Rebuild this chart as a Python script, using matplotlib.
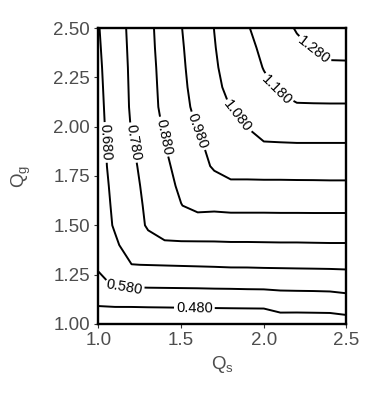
import matplotlib
matplotlib.use("Agg")
import matplotlib.pyplot as plt
import numpy as np

plt.rcParams['font.family'] = ['Liberation Sans', 'DejaVu Sans']
plt.rcParams['mathtext.default'] = 'regular'

qs = [1.0, 1.1, 1.2, 1.3, 1.4, 1.5, 1.6, 1.7, 1.8, 1.9, 2.0, 2.1, 2.2, 2.3, 2.4, 2.5]
qg = [1.0, 1.1, 1.2, 1.3, 1.4, 1.5, 1.6, 1.7, 1.8, 1.9, 2.0, 2.1, 2.2, 2.3, 2.4, 2.5]
levels = [0.48, 0.58, 0.68, 0.78, 0.88, 0.98, 1.08, 1.18, 1.28]

# values, one list per qs column (qg from 1.0 up to 2.5)
z_cols = [
    [0.410, 0.487, 0.548, 0.597, 0.625, 0.640, 0.643, 0.647, 0.652, 0.653, 0.655, 0.658, 0.662, 0.666, 0.671, 0.676],
    [0.396, 0.493, 0.592, 0.624, 0.668, 0.688, 0.694, 0.700, 0.707, 0.713, 0.720, 0.725, 0.728, 0.731, 0.735, 0.739],
    [0.391, 0.494, 0.594, 0.679, 0.715, 0.737, 0.745, 0.754, 0.762, 0.772, 0.784, 0.790, 0.792, 0.794, 0.797, 0.800],
    [0.391, 0.496, 0.596, 0.681, 0.750, 0.790, 0.797, 0.804, 0.814, 0.825, 0.837, 0.846, 0.849, 0.852, 0.856, 0.859],
    [0.392, 0.497, 0.597, 0.683, 0.772, 0.805, 0.835, 0.851, 0.864, 0.877, 0.889, 0.901, 0.905, 0.909, 0.914, 0.918],
    [0.394, 0.498, 0.598, 0.685, 0.770, 0.821, 0.878, 0.895, 0.908, 0.923, 0.938, 0.954, 0.960, 0.966, 0.971, 0.977],
    [0.395, 0.499, 0.599, 0.687, 0.767, 0.836, 0.903, 0.925, 0.949, 0.969, 0.985, 1.001, 1.012, 1.018, 1.024, 1.029],
    [0.396, 0.500, 0.601, 0.689, 0.767, 0.838, 0.898, 0.947, 0.990, 0.998, 1.018, 1.043, 1.061, 1.070, 1.076, 1.081],
    [0.397, 0.501, 0.602, 0.692, 0.769, 0.839, 0.903, 0.962, 1.017, 1.027, 1.052, 1.082, 1.100, 1.110, 1.118, 1.128],
    [0.397, 0.502, 0.604, 0.692, 0.769, 0.839, 0.903, 0.962, 1.017, 1.045, 1.082, 1.100, 1.132, 1.147, 1.160, 1.174],
    [0.397, 0.503, 0.605, 0.694, 0.770, 0.839, 0.903, 0.963, 1.018, 1.070, 1.110, 1.140, 1.164, 1.183, 1.196, 1.213],
    [0.428, 0.518, 0.607, 0.695, 0.771, 0.839, 0.904, 0.963, 1.018, 1.070, 1.118, 1.160, 1.190, 1.210, 1.227, 1.251],
    [0.427, 0.518, 0.609, 0.696, 0.771, 0.839, 0.904, 0.964, 1.018, 1.071, 1.122, 1.172, 1.210, 1.240, 1.262, 1.287],
    [0.428, 0.519, 0.610, 0.697, 0.772, 0.840, 0.904, 0.964, 1.019, 1.071, 1.122, 1.172, 1.215, 1.255, 1.284, 1.317],
    [0.428, 0.521, 0.612, 0.698, 0.773, 0.840, 0.904, 0.965, 1.019, 1.071, 1.122, 1.172, 1.218, 1.264, 1.307, 1.335],
    [0.437, 0.531, 0.619, 0.699, 0.773, 0.840, 0.904, 0.965, 1.019, 1.071, 1.122, 1.172, 1.218, 1.265, 1.308, 1.345],
]

# where the contour labels sit
label_spots = [(1.58, 1.08), (1.155, 1.18), (1.04, 1.92), (1.215, 1.92), (1.40, 1.95),
               (1.61, 1.98), (1.84, 2.05), (2.07, 2.18), (2.29, 2.37)]

xticks = [1.0, 1.5, 2.0, 2.5]
yticks = [1.0, 1.25, 1.5, 1.75, 2.0, 2.25, 2.5]

z = np.array(z_cols).T

fig = plt.figure(figsize=(3.8, 4.0), dpi=100)
ax = fig.add_axes([0.2592, 0.19, 0.6526, 0.74])

cs = ax.contour(qs, qg, z, levels=levels, colors='black', linewidths=1.4)
ax.clabel(cs, fmt='%.3f', fontsize=10.5, inline=True, inline_spacing=2, manual=label_spots)

ax.set_xlim(1.0, 2.5)
ax.set_ylim(1.0, 2.5)
ax.set_xticks(xticks)
ax.set_xticklabels(['%.1f' % t for t in xticks])
ax.set_yticks(yticks)
ax.set_yticklabels(['%.2f' % t for t in yticks])

for s in ax.spines.values():
    s.set_linewidth(1.7)
    s.set_color('black')
ax.tick_params(direction='out', length=3, width=0.8, color='#333333',
               labelcolor='#4D4D4D', labelsize=13.5, pad=3)

ax.set_xlabel('$Q_s$', fontsize=13.5, color='#4D4D4D')
ax.set_ylabel('$Q_g$', fontsize=13.5, color='#4D4D4D')
ax.xaxis.set_label_coords(0.5, -0.1)
ax.yaxis.set_label_coords(-0.265, 0.5)

fig.savefig('out.png', dpi=100)
